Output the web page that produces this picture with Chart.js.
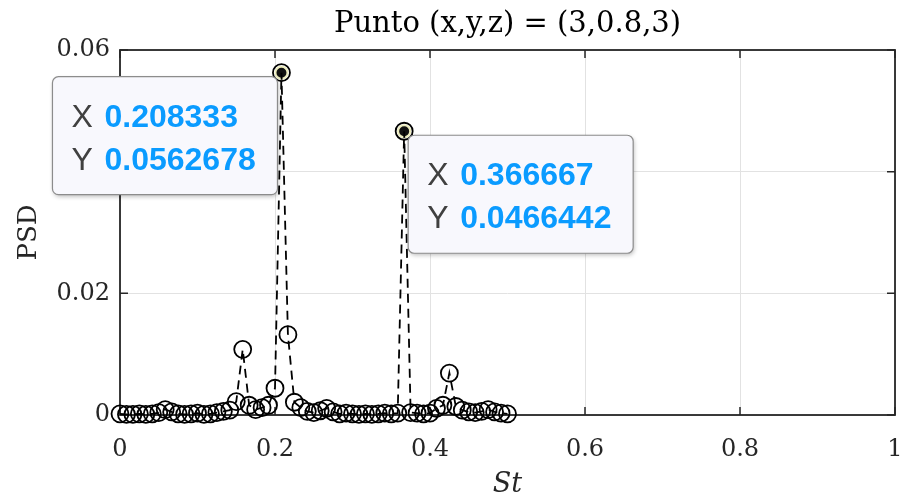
<!DOCTYPE html>
<html>
<head>
<meta charset="utf-8">
<script src="https://cdn.jsdelivr.net/npm/chart.js@4.4.1/dist/chart.umd.min.js"></script>
<style>
  html, body { margin: 0; padding: 0; background: #fff; }
</style>
</head>
<body>
<canvas id="psd" width="906" height="501"></canvas>
<script>
// Strouhal number bins
const st = [
  0, 0.008333, 0.016667, 0.025, 0.033333, 0.041667, 0.05, 0.058333, 0.066667, 0.075,
  0.083333, 0.091667, 0.1, 0.108333, 0.116667, 0.125, 0.133333, 0.141667, 0.15, 0.158333,
  0.166667, 0.175, 0.183333, 0.191667, 0.2, 0.208333, 0.216667, 0.225, 0.233333, 0.241667,
  0.25, 0.258333, 0.266667, 0.275, 0.283333, 0.291667, 0.3, 0.308333, 0.316667, 0.325,
  0.333333, 0.341667, 0.35, 0.358333, 0.366667, 0.375, 0.383333, 0.391667, 0.4, 0.408333,
  0.416667, 0.425, 0.433333, 0.441667, 0.45, 0.458333, 0.466667, 0.475, 0.483333, 0.491667,
  0.5
];

// PSD values
const psd = [
  0.0002, 0.0001, 0.0001, 0.0002, 0.0001, 0.0002, 0.0004, 0.0009, 0.0005, 0.0002,
  0.0001, 0.0002, 0.0003, 0.0001, 0.0002, 0.0004, 0.0006, 0.0008, 0.0022, 0.0108,
  0.0016, 0.0009, 0.0012, 0.0016, 0.0044, 0.0562678, 0.0132, 0.0021, 0.0012, 0.0006,
  0.0004, 0.0007, 0.0011, 0.0005, 0.0002, 0.0003, 0.0002, 0.0001, 0.0002, 0.0001,
  0.0002, 0.0003, 0.0002, 0.0003, 0.0466442, 0.0004, 0.0003, 0.0002, 0.0003, 0.0011,
  0.0016, 0.0069, 0.0014, 0.0008, 0.0005, 0.0004, 0.0006, 0.0009, 0.0005, 0.0003,
  0.0002
];

// points that carry a data tip, and which side the tip box sits on
const tipIdx = [25, 44];
const tipSide = ["left", "right"];

const xTicks = [0, 0.2, 0.4, 0.6, 0.8, 1];
const yTicks = [0, 0.02, 0.04, 0.06];

const serif = "'DejaVu Serif', serif";

// axes box with inward ticks, matlab style
const frame = {
  id: "frame",
  beforeDatasetsDraw(chart) {
    const { ctx, chartArea: a, scales } = chart;
    ctx.save();
    ctx.strokeStyle = "#262626";
    ctx.lineWidth = 1.5;
    ctx.beginPath();
    xTicks.forEach((v) => {
      const px = scales.x.getPixelForValue(v);
      ctx.moveTo(px, a.bottom);
      ctx.lineTo(px, a.bottom - 8);
      ctx.moveTo(px, a.top);
      ctx.lineTo(px, a.top + 8);
    });
    yTicks.forEach((v) => {
      const py = scales.y.getPixelForValue(v);
      ctx.moveTo(a.left, py);
      ctx.lineTo(a.left + 8, py);
      ctx.moveTo(a.right, py);
      ctx.lineTo(a.right - 8, py);
    });
    ctx.stroke();
    ctx.lineWidth = 1.8;
    ctx.strokeRect(a.left, a.top, a.right - a.left, a.bottom - a.top);
    ctx.restore();
  },
};

// data tip boxes
const datatips = {
  id: "datatips",
  afterDraw(chart) {
    const { ctx } = chart;
    const meta = chart.getDatasetMeta(1);
    tipIdx.forEach((idx, k) => {
      const pt = meta.data[k];
      const w = 225, h = 118;
      const bx = tipSide[k] === "left" ? pt.x - 4 - w : pt.x + 4;
      const by = pt.y + 4;
      ctx.save();
      ctx.shadowColor = "rgba(0,0,0,0.25)";
      ctx.shadowBlur = 4;
      ctx.shadowOffsetX = 1;
      ctx.shadowOffsetY = 2;
      ctx.fillStyle = "#f8f8fd";
      ctx.beginPath();
      ctx.roundRect(bx, by, w, h, 6);
      ctx.fill();
      ctx.shadowColor = "transparent";
      ctx.strokeStyle = "#8c8c8c";
      ctx.lineWidth = 1.2;
      ctx.stroke();

      ctx.textBaseline = "alphabetic";
      ctx.textAlign = "left";
      ctx.font = "32px 'Liberation Sans', Arial, sans-serif";
      ctx.fillStyle = "#404040";
      ctx.fillText("X", bx + 19, by + 50);
      ctx.fillText("Y", bx + 19, by + 93);
      ctx.font = "bold 32px 'Liberation Sans', Arial, sans-serif";
      ctx.fillStyle = "#0a9bff";
      ctx.fillText(String(st[idx]), bx + 52, by + 50);
      ctx.fillText(String(psd[idx]), bx + 52, by + 93);
      ctx.restore();
    });
  },
};

new Chart(document.getElementById("psd"), {
  type: "line",
  plugins: [frame, datatips],
  data: {
    datasets: [
      {
        data: st.map((s, i) => ({ x: s, y: psd[i] })),
        borderColor: "#000",
        borderWidth: 1.8,
        borderDash: [9, 6],
        pointRadius: 8.5,
        pointBorderWidth: 1.8,
        pointBorderColor: "#000",
        pointBackgroundColor: "rgba(0,0,0,0)",
        tension: 0,
        clip: false,
      },
      {
        data: tipIdx.map((i) => ({ x: st[i], y: psd[i] })),
        showLine: false,
        pointRadius: 6,
        pointBorderWidth: 2,
        pointBorderColor: "#ededbe",
        pointBackgroundColor: "#111",
        clip: false,
      },
    ],
  },
  options: {
    responsive: false,
    animation: false,
    layout: { padding: { left: 0, right: 11, top: 0, bottom: 0 } },
    plugins: {
      legend: { display: false },
      tooltip: { enabled: false },
      title: {
        display: true,
        fullSize: false,
        text: "Punto (x,y,z) = (3,0.8,3)",
        color: "#000",
        font: { family: serif, size: 29, weight: "normal" },
        padding: { top: 7, bottom: 8.2 },
      },
    },
    scales: {
      x: {
        type: "linear",
        min: 0,
        max: 1,
        afterFit(scale) {
          scale.height = 86;
          scale.paddingLeft = 0;
          scale.paddingRight = 0;
        },
        afterBuildTicks(scale) { scale.ticks = xTicks.map((v) => ({ value: v })); },
        grid: { color: "#e2e2e2", drawTicks: false },
        border: { display: false },
        ticks: {
          padding: 20,
          color: "#262626",
          font: { family: serif, size: 24 },
          callback: (v) => String(+v.toFixed(2)),
        },
        title: {
          display: true,
          text: "St",
          color: "#262626",
          font: { family: serif, size: 27, style: "italic" },
          padding: { top: 3, bottom: 0 },
        },
      },
      y: {
        min: 0,
        max: 0.06,
        afterFit(scale) {
          scale.width = 120;
          scale.paddingTop = 0;
          scale.paddingBottom = 0;
        },
        afterBuildTicks(scale) { scale.ticks = yTicks.map((v) => ({ value: v })); },
        grid: { color: "#e2e2e2", drawTicks: false },
        border: { display: false },
        ticks: {
          padding: 10,
          color: "#262626",
          font: { family: serif, size: 24 },
          callback: (v) => String(+v.toFixed(2)),
        },
        title: {
          display: true,
          text: "PSD",
          color: "#262626",
          font: { family: serif, size: 26 },
          padding: { top: 14, bottom: 0 },
        },
      },
    },
  },
});
</script>
</body>
</html>
